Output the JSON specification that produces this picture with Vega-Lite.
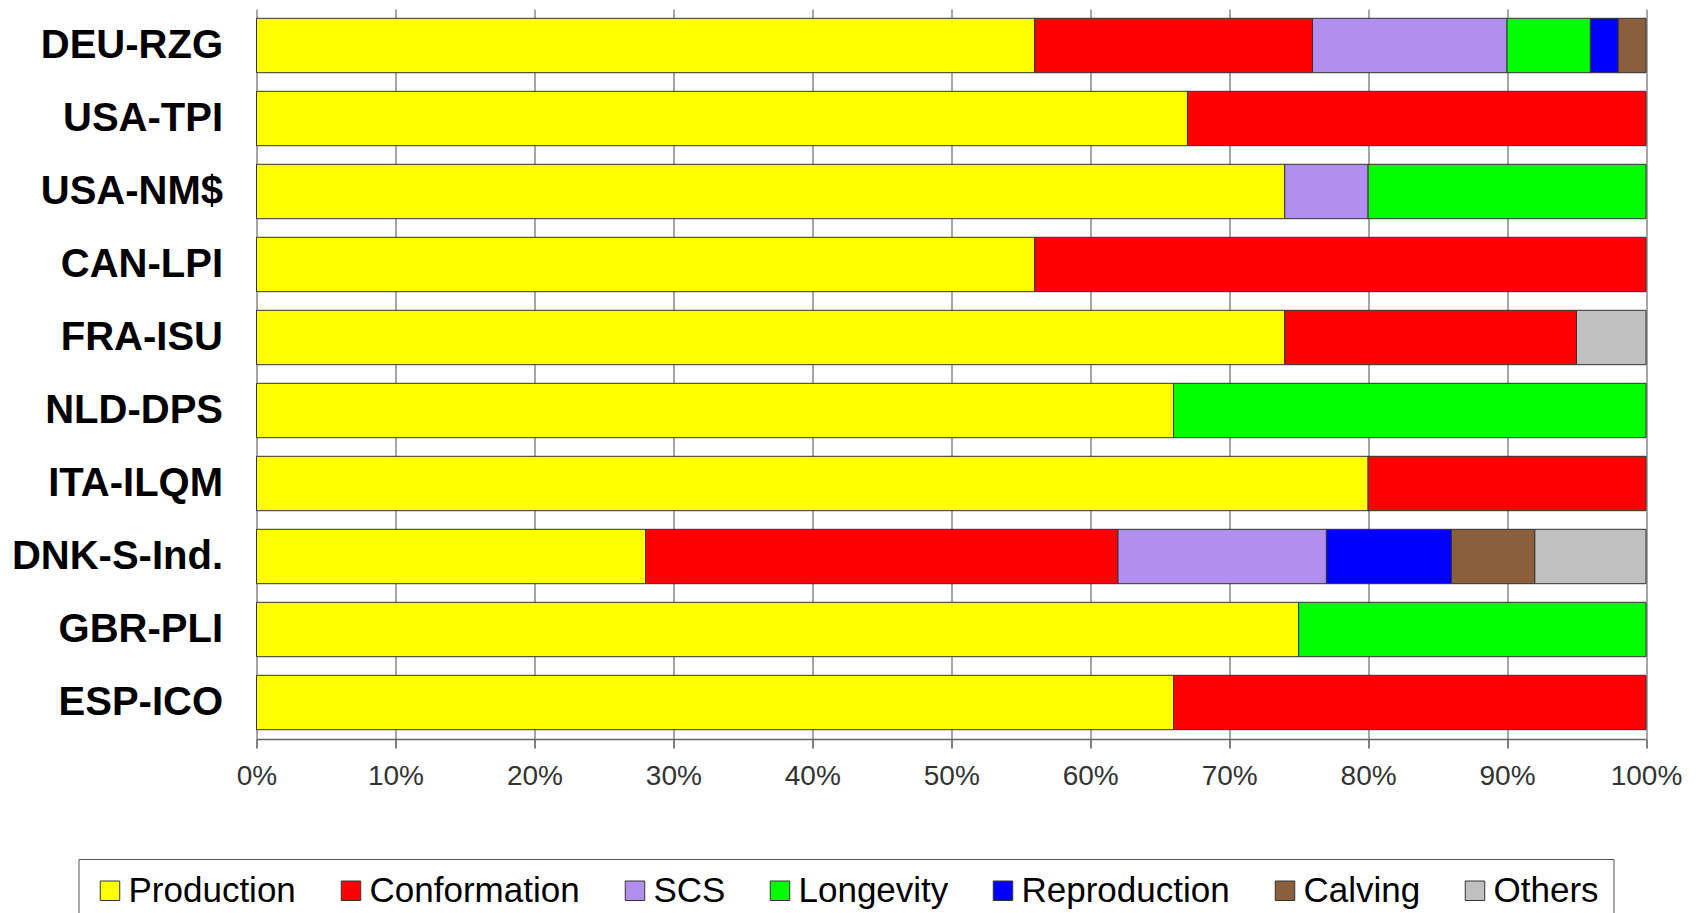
{
  "$schema": "https://vega.github.io/schema/vega-lite/v6.json",
  "width": 1389.5,
  "height": 730,
  "autosize": {"type": "none"},
  "padding": {"left": 256.5, "top": 9, "right": 54, "bottom": 174},
  "background": "white",
  "config": {"view": {"stroke": null}},
  "datasets": {
    "traits": [
      {"trait": "Production", "rank": 1},
      {"trait": "Conformation", "rank": 2},
      {"trait": "SCS", "rank": 3},
      {"trait": "Longevity", "rank": 4},
      {"trait": "Reproduction", "rank": 5},
      {"trait": "Calving", "rank": 6},
      {"trait": "Others", "rank": 7}
    ]
  },
  "data": {
    "values": [
      {"index": "DEU-RZG", "trait": "Production", "share": 56},
      {"index": "DEU-RZG", "trait": "Conformation", "share": 20},
      {"index": "DEU-RZG", "trait": "SCS", "share": 14},
      {"index": "DEU-RZG", "trait": "Longevity", "share": 6},
      {"index": "DEU-RZG", "trait": "Reproduction", "share": 2},
      {"index": "DEU-RZG", "trait": "Calving", "share": 2},
      {"index": "USA-TPI", "trait": "Production", "share": 67},
      {"index": "USA-TPI", "trait": "Conformation", "share": 33},
      {"index": "USA-NM$", "trait": "Production", "share": 74},
      {"index": "USA-NM$", "trait": "SCS", "share": 6},
      {"index": "USA-NM$", "trait": "Longevity", "share": 20},
      {"index": "CAN-LPI", "trait": "Production", "share": 56},
      {"index": "CAN-LPI", "trait": "Conformation", "share": 44},
      {"index": "FRA-ISU", "trait": "Production", "share": 74},
      {"index": "FRA-ISU", "trait": "Conformation", "share": 21},
      {"index": "FRA-ISU", "trait": "Others", "share": 5},
      {"index": "NLD-DPS", "trait": "Production", "share": 66},
      {"index": "NLD-DPS", "trait": "Longevity", "share": 34},
      {"index": "ITA-ILQM", "trait": "Production", "share": 80},
      {"index": "ITA-ILQM", "trait": "Conformation", "share": 20},
      {"index": "DNK-S-Ind.", "trait": "Production", "share": 28},
      {"index": "DNK-S-Ind.", "trait": "Conformation", "share": 34},
      {"index": "DNK-S-Ind.", "trait": "SCS", "share": 15},
      {"index": "DNK-S-Ind.", "trait": "Reproduction", "share": 9},
      {"index": "DNK-S-Ind.", "trait": "Calving", "share": 6},
      {"index": "DNK-S-Ind.", "trait": "Others", "share": 8},
      {"index": "GBR-PLI", "trait": "Production", "share": 75},
      {"index": "GBR-PLI", "trait": "Longevity", "share": 25},
      {"index": "ESP-ICO", "trait": "Production", "share": 66},
      {"index": "ESP-ICO", "trait": "Conformation", "share": 34}
    ]
  },
  "transform": [
    {"lookup": "trait", "from": {"data": {"name": "traits"}, "key": "trait", "fields": ["rank"]}}
  ],
  "mark": {"type": "bar", "stroke": "#333333", "strokeWidth": 1},
  "encoding": {
    "y": {
      "field": "index",
      "type": "nominal",
      "sort": null,
      "scale": {"paddingInner": 0.255, "paddingOuter": 0.1275},
      "axis": {
        "title": null,
        "domain": false,
        "ticks": false,
        "labelPadding": 34,
        "labelFont": "Liberation Sans",
        "labelFontWeight": "bold",
        "labelFontSize": 40,
        "labelColor": "#000000",
        "labelLimit": 400
      }
    },
    "x": {
      "field": "share",
      "type": "quantitative",
      "stack": "normalize",
      "scale": {"domain": [0, 1]},
      "axis": {
        "title": null,
        "values": [0, 0.1, 0.2, 0.3, 0.4, 0.5, 0.6, 0.7, 0.8, 0.9, 1],
        "format": ".0%",
        "grid": true,
        "gridColor": "#888888",
        "gridWidth": 1.5,
        "domain": true,
        "domainColor": "#666666",
        "domainWidth": 1.5,
        "ticks": true,
        "tickSize": 9,
        "tickColor": "#555555",
        "tickWidth": 1.5,
        "labelPadding": 14,
        "labelFont": "Liberation Sans",
        "labelFontSize": 28,
        "labelColor": "#333333",
        "labelFlush": false
      }
    },
    "order": {"field": "rank", "type": "quantitative", "sort": "ascending"},
    "color": {
      "field": "trait",
      "type": "nominal",
      "sort": ["Production", "Conformation", "SCS", "Longevity", "Reproduction", "Calving", "Others"],
      "scale": {
        "domain": ["Production", "Conformation", "SCS", "Longevity", "Reproduction", "Calving", "Others"],
        "range": ["#FFFF00", "#FF0000", "#B18FEE", "#00FF00", "#0000FF", "#8B5E3C", "#C0C0C0"]
      },
      "legend": {
        "title": null,
        "orient": "none",
        "legendX": -178,
        "legendY": 850,
        "direction": "horizontal",
        "strokeColor": "#555555",
        "padding": 14,
        "labelFont": "Liberation Sans",
        "labelFontSize": 35,
        "labelColor": "#000000",
        "labelLimit": 0,
        "labelOffset": 1,
        "columnPadding": 37,
        "symbolType": "square",
        "symbolSize": 380,
        "symbolStrokeColor": "#333333",
        "symbolStrokeWidth": 1,
        "symbolOpacity": 1
      }
    }
  }
}
